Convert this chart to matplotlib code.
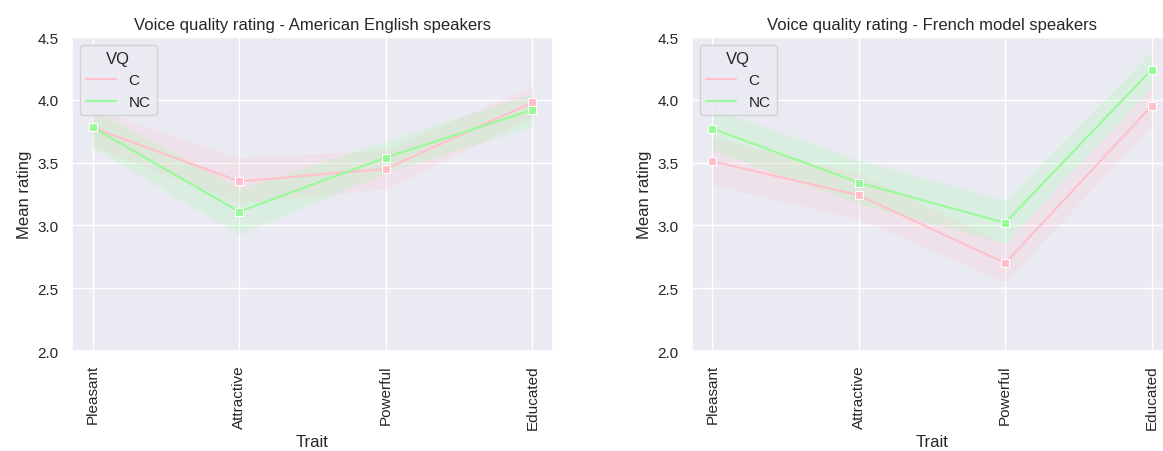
import numpy as np
import matplotlib.pyplot as plt
import seaborn as sns
from matplotlib.lines import Line2D

sns.set_theme(style="darkgrid", context="notebook")
plt.rcParams["font.family"] = ["Liberation Sans", "DejaVu Sans"]

traits = ["Pleasant", "Attractive", "Powerful", "Educated"]
groups = ["C", "NC"]
colors = {"C": "pink", "NC": "palegreen"}

# American English speakers
am_mean = {"C": [3.78, 3.35, 3.45, 3.98], "NC": [3.78, 3.11, 3.54, 3.92]}
am_lo = {"C": [3.63, 3.18, 3.29, 3.86], "NC": [3.62, 2.93, 3.42, 3.79]}
am_hi = {"C": [3.93, 3.54, 3.60, 4.11], "NC": [3.93, 3.29, 3.67, 4.05]}

# French model speakers
fr_mean = {"C": [3.51, 3.24, 2.70, 3.95], "NC": [3.77, 3.34, 3.02, 4.24]}
fr_lo = {"C": [3.32, 3.05, 2.55, 3.79], "NC": [3.60, 3.17, 2.86, 4.10]}
fr_hi = {"C": [3.70, 3.41, 2.85, 4.10], "NC": [3.93, 3.52, 3.20, 4.38]}

W, H = 1163, 452
fig = plt.figure(figsize=(W / 100, H / 100), dpi=100)
ax1 = fig.add_axes([72 / W, 1 - 352 / H, 481 / W, 314 / H])
ax2 = fig.add_axes([692 / W, 1 - 352 / H, 480 / W, 314 / H])

panels = [
    (ax1, am_mean, am_lo, am_hi, "Voice quality rating - American English speakers"),
    (ax2, fr_mean, fr_lo, fr_hi, "Voice quality rating - French model speakers"),
]

x = np.arange(len(traits))
for ax, mean, lo, hi, title in panels:
    for g in groups:
        ax.fill_between(x, lo[g], hi[g], color=colors[g], alpha=0.2, linewidth=0)
        ax.plot(x, mean[g], color=colors[g], lw=1.5, marker="s", ms=6,
                mec="white", mew=0.75)
    ax.set_xlim(-0.14, 3.14)
    ax.set_ylim(2.0, 4.5)
    ax.set_yticks([2.0, 2.5, 3.0, 3.5, 4.0, 4.5])
    ax.set_xticks(x)
    ax.set_xticklabels(traits, rotation=90)
    ax.set_xlabel("Trait")
    ax.set_ylabel("Mean rating")
    ax.set_title(title)
    handles = [Line2D([], [], color=colors[g], lw=1.5) for g in groups]
    ax.legend(handles, groups, title="VQ", loc="upper left")

fig.savefig("out.png", dpi=100)
